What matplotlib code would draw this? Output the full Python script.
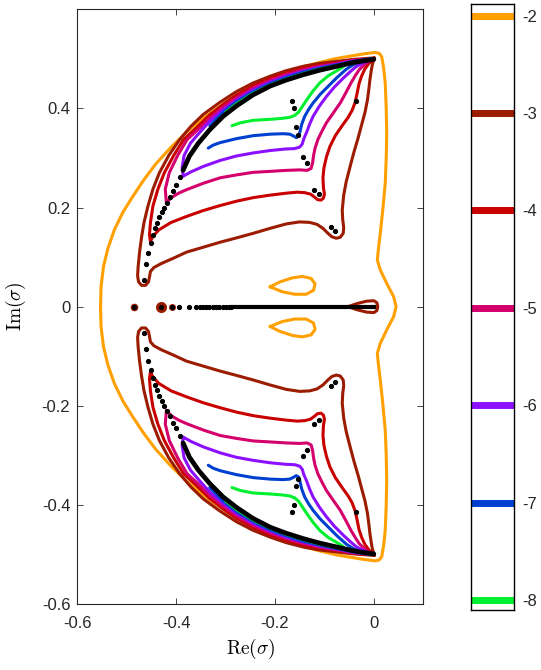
import numpy as np
import matplotlib
matplotlib.use('Agg')
import matplotlib.pyplot as plt

plt.rcParams['font.family'] = ['Liberation Sans', 'DejaVu Sans']
plt.rcParams['mathtext.fontset'] = 'cm'
plt.rcParams['axes.unicode_minus'] = False

levels = [-2, -3, -4, -5, -6, -7, -8]
level_colors = ['#FFA000', '#9B1C00', '#C80000', '#D4006C', '#8C10FF', '#0040D0', '#00F030']

# contours, upper half only (the plot is mirror symmetric)
# level -2 : outer boundary, from the left point on the real axis over the top to the right point
orange_outer = [(-0.553, 0.0), (-0.552, 0.040), (-0.547, 0.081), (-0.538, 0.118), (-0.525, 0.155),
                (-0.508, 0.190), (-0.488, 0.222), (-0.466, 0.255), (-0.442, 0.287), (-0.412, 0.320),
                (-0.379, 0.352), (-0.338, 0.386), (-0.291, 0.418), (-0.254, 0.438), (-0.217, 0.457),
                (-0.180, 0.471), (-0.143, 0.484), (-0.109, 0.493), (-0.075, 0.501), (-0.045, 0.506),
                (-0.021, 0.510), (0.003, 0.513), (0.011, 0.511), (0.016, 0.504), (0.020, 0.480),
                (0.023, 0.451), (0.025, 0.400), (0.026, 0.350), (0.025, 0.300), (0.023, 0.249),
                (0.018, 0.195), (0.013, 0.148), (0.009, 0.115), (0.007, 0.094), (0.013, 0.074),
                (0.026, 0.047), (0.040, 0.020), (0.045, 0.0)]
# level -2 : small island above the real axis
orange_island = [(-0.210, 0.040), (-0.190, 0.050), (-0.165, 0.058), (-0.145, 0.061), (-0.127, 0.057),
                 (-0.119, 0.046), (-0.122, 0.033), (-0.137, 0.025), (-0.160, 0.025), (-0.185, 0.030),
                 (-0.210, 0.040)]
# level -3
brown_main = [(0.001, 0.502), (-0.040, 0.499), (-0.075, 0.495), (-0.110, 0.491), (-0.143, 0.485),
              (-0.178, 0.476), (-0.210, 0.465), (-0.245, 0.451), (-0.278, 0.434), (-0.312, 0.412),
              (-0.345, 0.388), (-0.370, 0.364), (-0.393, 0.337), (-0.415, 0.305), (-0.434, 0.270),
              (-0.447, 0.237), (-0.457, 0.203), (-0.465, 0.170), (-0.470, 0.140), (-0.474, 0.110),
              (-0.477, 0.080), (-0.478, 0.062), (-0.476, 0.050), (-0.470, 0.043), (-0.462, 0.043),
              (-0.456, 0.050), (-0.454, 0.060), (-0.452, 0.071), (-0.445, 0.079), (-0.430, 0.087),
              (-0.405, 0.098), (-0.379, 0.110), (-0.345, 0.120), (-0.311, 0.130), (-0.277, 0.139),
              (-0.244, 0.148), (-0.210, 0.158), (-0.177, 0.167), (-0.150, 0.171), (-0.130, 0.170),
              (-0.115, 0.166), (-0.103, 0.158), (-0.093, 0.148), (-0.085, 0.141), (-0.076, 0.138),
              (-0.068, 0.140), (-0.062, 0.148), (-0.061, 0.160), (-0.063, 0.175), (-0.064, 0.195),
              (-0.061, 0.225), (-0.056, 0.252), (-0.048, 0.283), (-0.040, 0.313), (-0.032, 0.340),
              (-0.025, 0.366), (-0.018, 0.392), (-0.013, 0.417), (-0.010, 0.440), (-0.008, 0.458),
              (-0.005, 0.478), (-0.003, 0.489), (0.001, 0.502)]
brown_drop = [(-0.052, 0.0), (-0.035, 0.006), (-0.015, 0.011), (0.000, 0.012), (0.006, 0.008), (0.008, 0.0)]
brown_rings_x = [-0.485, -0.430, -0.408]
brown_rings_size = [5.5, 8, 5]
# level -4 : inner curve (tip -> top) then outer arc (top -> tip)
red_line = [(-0.452, 0.132), (-0.447, 0.142), (-0.435, 0.155), (-0.410, 0.170), (-0.379, 0.182),
            (-0.345, 0.194), (-0.311, 0.204), (-0.277, 0.213), (-0.244, 0.220), (-0.210, 0.225),
            (-0.177, 0.229), (-0.155, 0.231), (-0.140, 0.230), (-0.128, 0.227), (-0.120, 0.221),
            (-0.114, 0.216), (-0.107, 0.215), (-0.102, 0.219), (-0.100, 0.227), (-0.102, 0.240),
            (-0.103, 0.260), (-0.101, 0.280), (-0.096, 0.302), (-0.089, 0.323), (-0.078, 0.345),
            (-0.065, 0.364), (-0.052, 0.382), (-0.044, 0.396), (-0.038, 0.412), (-0.034, 0.430),
            (-0.030, 0.450), (-0.025, 0.465), (-0.018, 0.480), (-0.010, 0.491), (0.000, 0.500),
            (-0.040, 0.498), (-0.075, 0.492), (-0.110, 0.487), (-0.143, 0.481), (-0.178, 0.471),
            (-0.210, 0.460), (-0.245, 0.445), (-0.278, 0.427), (-0.305, 0.408), (-0.332, 0.387),
            (-0.360, 0.360), (-0.385, 0.337), (-0.405, 0.305), (-0.424, 0.270), (-0.437, 0.237),
            (-0.447, 0.203), (-0.452, 0.170), (-0.454, 0.145), (-0.452, 0.132)]
# level -5
pink_line = [(-0.420, 0.209), (-0.410, 0.220), (-0.395, 0.229), (-0.379, 0.236), (-0.345, 0.249),
             (-0.311, 0.260), (-0.277, 0.266), (-0.244, 0.271), (-0.210, 0.273), (-0.177, 0.275),
             (-0.150, 0.276), (-0.135, 0.275), (-0.127, 0.279), (-0.124, 0.290), (-0.122, 0.305),
             (-0.119, 0.320), (-0.113, 0.338), (-0.104, 0.356), (-0.096, 0.371), (-0.082, 0.391),
             (-0.068, 0.411), (-0.057, 0.431), (-0.046, 0.452), (-0.037, 0.467), (-0.029, 0.479),
             (-0.015, 0.492), (0.000, 0.500), (-0.040, 0.497), (-0.075, 0.491), (-0.110, 0.485),
             (-0.143, 0.478), (-0.178, 0.468), (-0.210, 0.457), (-0.245, 0.441), (-0.278, 0.422),
             (-0.305, 0.403), (-0.332, 0.381), (-0.355, 0.358), (-0.378, 0.337), (-0.397, 0.305),
             (-0.414, 0.270), (-0.422, 0.237), (-0.420, 0.212)]
# level -6
purple_line = [(-0.386, 0.263), (-0.370, 0.272), (-0.345, 0.283), (-0.311, 0.295), (-0.278, 0.304),
               (-0.245, 0.310), (-0.210, 0.315), (-0.180, 0.318), (-0.160, 0.319), (-0.150, 0.322),
               (-0.145, 0.328), (-0.142, 0.338), (-0.136, 0.352), (-0.130, 0.368), (-0.123, 0.384),
               (-0.110, 0.405), (-0.096, 0.424), (-0.080, 0.443), (-0.062, 0.461), (-0.048, 0.474),
               (-0.035, 0.485), (-0.015, 0.495), (0.000, 0.500), (-0.040, 0.496), (-0.075, 0.489),
               (-0.110, 0.483), (-0.143, 0.475), (-0.178, 0.465), (-0.210, 0.453), (-0.245, 0.437),
               (-0.278, 0.417), (-0.305, 0.397), (-0.332, 0.374), (-0.352, 0.352), (-0.371, 0.330),
               (-0.384, 0.305), (-0.388, 0.280), (-0.386, 0.266)]
# level -7
blue_line = [(-0.335, 0.320), (-0.325, 0.326), (-0.311, 0.331), (-0.278, 0.339), (-0.244, 0.345),
             (-0.210, 0.348), (-0.184, 0.349), (-0.170, 0.348), (-0.162, 0.344), (-0.157, 0.341),
             (-0.152, 0.344), (-0.149, 0.355), (-0.146, 0.368), (-0.140, 0.384), (-0.132, 0.398),
             (-0.123, 0.411), (-0.108, 0.429), (-0.092, 0.445), (-0.075, 0.462), (-0.056, 0.479),
             (-0.042, 0.488), (-0.025, 0.496), (-0.005, 0.500), (-0.040, 0.495), (-0.075, 0.488),
             (-0.110, 0.481), (-0.143, 0.473), (-0.178, 0.462), (-0.210, 0.450), (-0.245, 0.433),
             (-0.278, 0.413), (-0.305, 0.392), (-0.332, 0.365)]
# level -8
green_line = [(-0.287, 0.365), (-0.270, 0.371), (-0.244, 0.376), (-0.210, 0.378), (-0.185, 0.380),
              (-0.170, 0.382), (-0.160, 0.386), (-0.152, 0.393), (-0.144, 0.405), (-0.136, 0.417),
              (-0.124, 0.434), (-0.109, 0.452), (-0.092, 0.466), (-0.075, 0.476), (-0.062, 0.484),
              (-0.075, 0.486), (-0.110, 0.479), (-0.143, 0.470), (-0.178, 0.459), (-0.210, 0.447),
              (-0.245, 0.430), (-0.278, 0.409), (-0.300, 0.392)]

# eigenvalues (upper half + real axis)
eig_arc_dense = [(0.000, 0.499), (-0.040, 0.493), (-0.075, 0.485), (-0.110, 0.477), (-0.143, 0.468),
                 (-0.178, 0.457), (-0.210, 0.445), (-0.245, 0.427), (-0.278, 0.405), (-0.305, 0.384),
                 (-0.332, 0.357), (-0.355, 0.330), (-0.373, 0.304), (-0.386, 0.275)]
eig_arc_dots = [(-0.392, 0.262), (-0.400, 0.245), (-0.406, 0.234), (-0.412, 0.221), (-0.418, 0.210),
                (-0.424, 0.200), (-0.429, 0.190), (-0.434, 0.180), (-0.438, 0.169), (-0.443, 0.158),
                (-0.447, 0.144), (-0.451, 0.128), (-0.456, 0.109), (-0.462, 0.086), (-0.466, 0.054)]
eig_pairs = [(-0.165, 0.415), (-0.162, 0.400), (-0.158, 0.362), (-0.153, 0.347), (-0.143, 0.302),
             (-0.136, 0.290), (-0.121, 0.236), (-0.111, 0.228), (-0.087, 0.160), (-0.079, 0.153),
             (-0.037, 0.415)]
eig_real_dots = [-0.485, -0.430, -0.408, -0.394, -0.375, -0.360, -0.352, -0.346, -0.340, -0.333,
                 -0.326, -0.320, -0.313, -0.306, -0.300, -0.294, -0.289]
eig_real_dense = [-0.285, 0.0]

fig = plt.figure(figsize=(5.41, 6.70), dpi=100)
ax = fig.add_axes([77.3 / 541, 1 - 604 / 670, 346 / 541, 594.7 / 670])

lw = 2.2


def mirror_plot(pts, color, **kw):
    p = np.array(pts)
    ax.plot(p[:, 0], p[:, 1], color=color, lw=lw, solid_joinstyle='round', solid_capstyle='round', **kw)
    ax.plot(p[:, 0], -p[:, 1], color=color, lw=lw, solid_joinstyle='round', solid_capstyle='round', **kw)


# outer level -2 boundary as one closed curve
p = np.array(orange_outer)
ax.plot(np.concatenate([p[:, 0], p[::-1, 0]]), np.concatenate([p[:, 1], -p[::-1, 1]]),
        color=level_colors[0], lw=lw, solid_joinstyle='round')
mirror_plot(orange_island, level_colors[0])
mirror_plot(brown_main, level_colors[1])
p = np.array(brown_drop)
ax.plot(np.concatenate([p[:, 0], p[::-1, 0]]), np.concatenate([p[:, 1], -p[::-1, 1]]),
        color=level_colors[1], lw=lw, solid_joinstyle='round')
for bx, bs in zip(brown_rings_x, brown_rings_size):
    ax.plot(bx, 0, 'o', color=level_colors[1], markersize=bs, markeredgewidth=0)
mirror_plot(red_line, level_colors[2])
mirror_plot(pink_line, level_colors[3])
mirror_plot(purple_line, level_colors[4])
mirror_plot(blue_line, level_colors[5])
mirror_plot(green_line, level_colors[6])

# eigenvalues
p = np.array(eig_arc_dense)
ax.plot(p[:, 0], p[:, 1], color='k', lw=3.4, solid_capstyle='round', solid_joinstyle='round', zorder=5)
ax.plot(p[:, 0], -p[:, 1], color='k', lw=3.4, solid_capstyle='round', solid_joinstyle='round', zorder=5)
for pts in [eig_arc_dots, eig_pairs]:
    p = np.array(pts)
    ax.plot(p[:, 0], p[:, 1], 'k.', markersize=5.5, zorder=6)
    ax.plot(p[:, 0], -p[:, 1], 'k.', markersize=5.5, zorder=6)
ax.plot(eig_real_dots, np.zeros(len(eig_real_dots)), 'k.', markersize=5.5, zorder=6)
ax.plot(eig_real_dense, [0, 0], color='k', lw=3, zorder=5)

ax.set_xlim(-0.6, 0.1)
ax.set_ylim(-0.6, 0.6)
ax.set_xticks([-0.6, -0.4, -0.2, 0])
ax.set_xticklabels(['-0.6', '-0.4', '-0.2', '0'])
ax.set_yticks([-0.6, -0.4, -0.2, 0, 0.2, 0.4])
ax.set_yticklabels(['-0.6', '-0.4', '-0.2', '0', '0.2', '0.4'])
ax.tick_params(direction='in', top=True, right=True, length=4.5, width=0.6, color='#262626',
               labelsize=12, labelcolor='#262626')
ax.tick_params(axis='x', pad=9)
ax.tick_params(axis='y', pad=5)
for s in ax.spines.values():
    s.set_linewidth(0.8)
    s.set_color('#262626')
ax.set_xlabel(r'$\mathrm{Re}(\sigma)$', fontsize=14, labelpad=4)
ax.set_ylabel(r'$\mathrm{Im}(\sigma)$', fontsize=14, labelpad=10)

# colour bar with one line per level
cax = fig.add_axes([471 / 541, 1 - 610 / 670, 43.3 / 541, 605.7 / 670])
for lev, col in zip(levels, level_colors):
    cax.axhline(lev, color=col, lw=5)
cax.set_ylim(-8.1, -1.885)
cax.set_xlim(0, 1)
cax.set_xticks([])
cax.yaxis.tick_right()
cax.set_yticks(levels)
cax.set_yticklabels([str(l) for l in levels])
cax.tick_params(axis='y', length=0, pad=6, labelsize=12, labelcolor='#262626')
for s in cax.spines.values():
    s.set_linewidth(1.0)
    s.set_color('k')

fig.savefig('out.png', dpi=100)
